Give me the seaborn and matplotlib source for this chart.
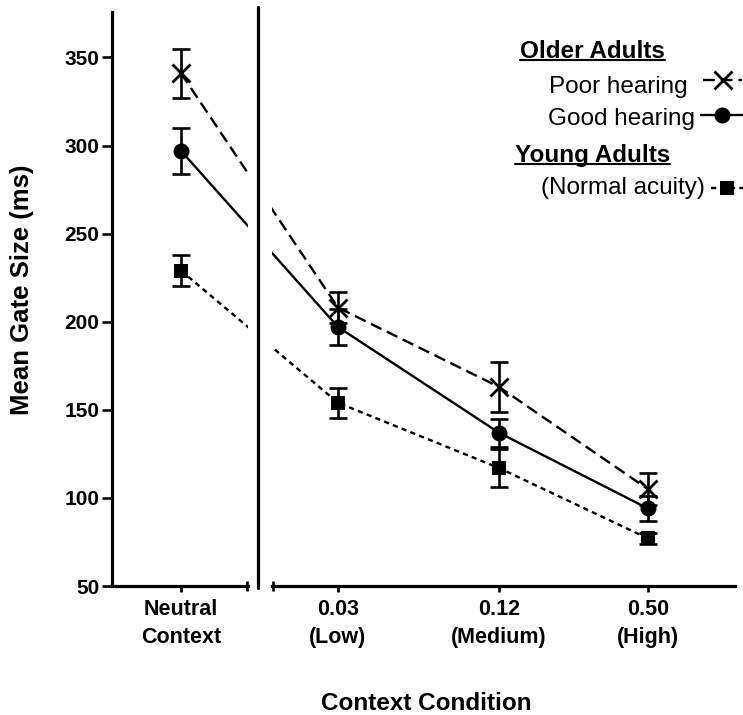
import matplotlib
matplotlib.use("Agg")
import matplotlib.pyplot as plt
import pandas as pd
import seaborn as sns
from matplotlib.lines import Line2D

# 数据
conditions = ['Neutral\nContext', '0.03\n(Low)', '0.12\n(Medium)', '0.50\n(High)']
poor_mean = [341, 208, 163, 105]
poor_err = [14, 9, 14, 9]
good_mean = [297, 197, 137, 94]
good_err = [13, 10, 8, 7]
young_mean = [229, 154, 117, 77]
young_err = [9, 8.5, 11, 3]

# 布局（像素）
W, H = 743, 715
cond_pos = [0, 0.975, 1.975, 2.90]
PX_UNIT = 161.0      # 每个x单位的像素
X0 = 181.0           # Neutral 的像素位置
PX_Y = 1.762         # 每个y单位的像素
Y_AXIS_PX = 586      # y=50 的像素位置


def fx(px):
    return px / W


def fy(py):
    return 1 - py / H


def build_frame():
    rows = []
    groups = [('poor', poor_mean, poor_err), ('good', good_mean, good_err),
              ('young', young_mean, young_err)]
    for name, means, errs in groups:
        for c, p, m, e in zip(conditions, cond_pos, means, errs):
            rows.append({'group': name, 'condition': c, 'pos': p, 'mean': m, 'err': e})
    return pd.DataFrame(rows)


styles = {
    'poor': dict(linestyle=(0, (5, 2.5)), marker='x', markersize=13, markeredgewidth=2.0),
    'good': dict(linestyle='-', marker='o', markersize=11.5, markeredgewidth=0),
    'young': dict(linestyle=(0, (2.2, 1.8)), marker='s', markersize=9.5, markeredgewidth=0),
}


def draw_series(ax, df):
    for name, st in styles.items():
        d = df[df['group'] == name]
        sns.lineplot(data=d, x='pos', y='mean', ax=ax, color='black', lw=1.7,
                     markeredgecolor='black', **st)
        ax.errorbar(d['pos'], d['mean'], yerr=d['err'], fmt='none', ecolor='black',
                    elinewidth=1.9, capsize=6.2, capthick=1.9)


sns.set_theme(style='ticks')
plt.rcParams['font.family'] = ['Liberation Sans', 'DejaVu Sans']
plt.rcParams.update({'text.color': 'black', 'axes.edgecolor': 'black',
                     'axes.labelcolor': 'black', 'xtick.color': 'black',
                     'ytick.color': 'black'})

df = build_frame()
fig = plt.figure(figsize=(W / 100, H / 100), dpi=100)

top_px = 12
ax_h = (Y_AXIS_PX - top_px) / H
axL = fig.add_axes([fx(112), fy(Y_AXIS_PX), fx(248) - fx(112), ax_h])
axR = fig.add_axes([fx(272), fy(Y_AXIS_PX), fx(735) - fx(272), ax_h])

ylim = (50, 50 + (Y_AXIS_PX - top_px) / PX_Y)
for ax, (l, r) in [(axL, (112, 248)), (axR, (272, 735))]:
    draw_series(ax, df)
    ax.set_xlim((l - X0) / PX_UNIT, (r - X0) / PX_UNIT)
    ax.set_ylim(*ylim)
    ax.set_xlabel('')
    ax.set_ylabel('')
    ax.patch.set_alpha(0)
    for s in ['top', 'right']:
        ax.spines[s].set_visible(False)
    ax.spines['bottom'].set_linewidth(2.3)
    ax.spines['left'].set_linewidth(2.3)
    ax.tick_params(axis='x', which='major', length=4.5, width=1.9, pad=5,
                   labelsize=15.5)
    ax.tick_params(axis='x', which='minor', direction='inout', length=6.5, width=1.9)

# 左轴
axL.set_xticks([cond_pos[0]])
axL.set_xticklabels([conditions[0]], fontweight='bold', linespacing=1.45)
axL.set_xticks([(248 - X0) / PX_UNIT - 0.004], minor=True)
axL.set_yticks([50, 100, 150, 200, 250, 300, 350])
axL.set_yticklabels(['50', '100', '150', '200', '250', '300', '350'],
                    fontweight='bold')
axL.tick_params(axis='y', length=7.5, width=1.9, pad=1.5, labelsize=15)

# 右轴
axR.spines['left'].set_visible(False)
axR.set_yticks([])
axR.set_xticks(cond_pos[1:])
axR.set_xticklabels(conditions[1:], fontweight='bold', linespacing=1.45)
axR.set_xticks([(272 - X0) / PX_UNIT + 0.004], minor=True)

# 分隔竖线
fig.add_artist(Line2D([fx(258), fx(258)], [fy(7), fy(588)], color='black', lw=2.3))

# 坐标轴标题
fig.text(fx(22), fy(290), 'Mean Gate Size (ms)', rotation=90, ha='center',
         va='center', fontsize=18.5, fontweight='bold')
fig.text(fx(426), fy(710), 'Context Condition', ha='center', va='baseline',
         fontsize=17.5, fontweight='bold')

# 图例
heads = [('Older Adults', 520, 58), ('Young Adults', 515, 162)]
items = [('Poor hearing', 688, 93), ('Good hearing', 695, 125), ('(Normal acuity)', 705, 194)]
head_txt = []
for t, x, y in heads:
    head_txt.append(fig.text(fx(x), fy(y), t, ha='left', va='baseline', fontsize=17.5,
                             fontweight='bold'))
for t, x, y in items:
    fig.text(fx(x), fy(y), t, ha='right', va='baseline', fontsize=17.5)

samples = [('poor', 703, 742, 80), ('good', 701, 743, 115), ('young', 711, 743, 188)]
for name, x1, x2, y in samples:
    st = styles[name]
    xm = (x1 + x2) / 2
    fig.add_artist(Line2D([fx(x1), fx(xm), fx(x2)], [fy(y)] * 3, color='black', lw=1.7,
                          linestyle=st['linestyle'], marker=st['marker'],
                          markersize=st['markersize'], markeredgewidth=st['markeredgewidth'],
                          markeredgecolor='black', markerfacecolor='black', markevery=[1]))

fig.canvas.draw()
renderer = fig.canvas.get_renderer()
inv = fig.transFigure.inverted()
for txt in head_txt:
    bb = txt.get_window_extent(renderer)
    (x0, _), (x1, _) = inv.transform([(bb.x0, bb.y0), (bb.x1, bb.y0)])
    _, yb = txt.get_position()
    fig.add_artist(Line2D([x0, x1], [yb - 2 / H, yb - 2 / H], color='black', lw=1.5))

fig.savefig('out.png', dpi=100)
